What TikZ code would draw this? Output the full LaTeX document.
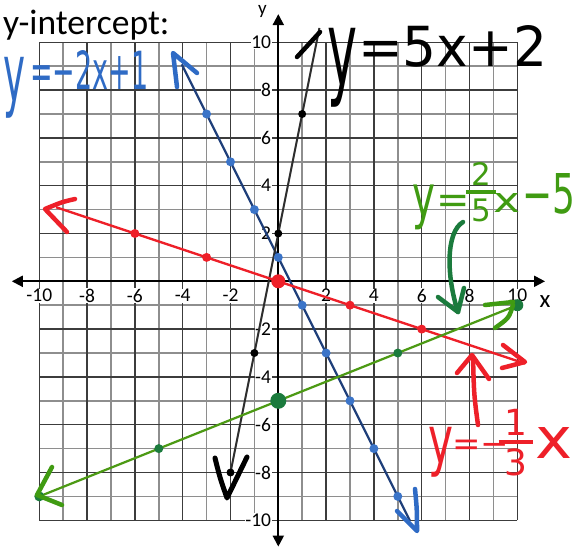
\documentclass[tikz,border=0pt]{standalone}
\usepackage{fontspec}
\setmainfont{Carlito}
\newfontfamily\hand{DejaVu Sans}
\usetikzlibrary{arrows.meta}
\definecolor{gridD}{HTML}{3C3C3C}
\definecolor{gridL}{HTML}{8E8E8E}
\definecolor{navy}{HTML}{1F3F7A}
\definecolor{bdot}{HTML}{3B74C8}
\definecolor{btext}{HTML}{2F6BC5}
\definecolor{rd}{HTML}{EE2029}
\definecolor{gline}{HTML}{4C9A14}
\definecolor{gdot}{HTML}{1B7B3D}
\definecolor{gtext}{HTML}{409B12}
\definecolor{blk}{HTML}{2E2E2E}
\newcommand\hw[3]{\resizebox{#1}{#2}{\hand #3}}
\newcommand\hwd[3]{\resizebox*{#1}{#2}{\hand #3}}
\begin{document}
\begin{tikzpicture}[x=1pt,y=-1pt,
  hand/.style={line width=4.5pt,line cap=round,line join=round},
  txt/.style={inner sep=0pt},
  tick/.style={font=\fontsize{19.5}{20}\selectfont,fill=white,inner sep=0.6pt},
  gminor/.style={gridL,line width=1.5pt},
  gmajor/.style={gridD,line width=1.5pt},
  axisline/.style={line width=2pt,{Triangle[width=11pt,length=11pt]}-{Triangle[width=11pt,length=11pt]}},
  dotB/.style={fill=bdot},dotR/.style={fill=rd},dotK/.style={fill=black},dotG/.style={fill=gdot}]
\useasboundingbox (0,0) rectangle (579,552);
\fill[white] (0,0) rectangle (579,552);
\node[txt,anchor=base west,font=\fontsize{35.5}{36}\selectfont] (title) at (3,34.5) {y-intercept:};
\begin{scope}[shift={(278.3,281.3)},x=23.9pt,y=23.9pt]
  \foreach \i in {-9,-7,...,9} {
    \draw[gminor] (\i,-10) -- (\i,10);
    \draw[gminor] (-10,\i) -- (10,\i);
  }
  \foreach \i in {-10,-8,...,10} {
    \draw[gmajor] (\i,-10) -- (\i,10);
    \draw[gmajor] (-10,\i) -- (10,\i);
  }
  \coordinate (xl) at (-11.15,0); \coordinate (xr) at (11.16,0);
  \coordinate (yb) at (0,-11.1); \coordinate (yt) at (0,11.18);
  \draw[axisline] (xl) -- (xr);
  \draw[axisline] (yb) -- (yt);
  \foreach \i in {-10,-8,-6,-4,-2,2,4,6,8,10} {
    \node[tick,anchor=center] (xt\i) at (\i,-0.6) {\i};
    \node[tick,anchor=east] (yt\i) at (-0.27,\i) {\i};
  }
  \node[txt,font=\fontsize{25}{25}\selectfont] (xlab) at (11.16,-0.85) {x};
  % lines
  \coordinate (b1) at (-4.04,9.08); \coordinate (b2) at (5.51,-10.02);
  \draw[navy,line width=2.2pt] (b1) -- (b2);
  \coordinate (k1) at (-2,-8); \coordinate (k2) at (1.72,10.6);
  \draw[blk,line width=2pt] (k1) -- (k2);
  \coordinate (r1) at (-9.3,3.1); \coordinate (r2) at (10.32,-3.44);
  \draw[rd,line width=2.4pt] (r1) -- (r2);
  \coordinate (g1) at (-10,-9); \coordinate (g2) at (10,-1);
  \draw[gline,line width=2.2pt] (g1) -- (g2);
  % dots
  \foreach \x in {-3,...,5} \fill[dotB] (\x,{-2*\x+1}) circle[radius=4.5pt];
  \foreach \x in {-2,...,1} \fill[dotK] (\x,{5*\x+2}) circle[radius=4pt];
  \foreach \x in {-6,-3,3,6} \fill[dotR] (\x,{-\x/3}) circle[radius=4.5pt];
  \fill[dotR] (0,0) circle[radius=7pt];
  \foreach \x in {-5,5} \fill[dotG] (\x,{0.4*\x-5}) circle[radius=4.5pt];
  \fill[dotG] (0,-5) circle[radius=8pt];
  \fill[dotG] (10,-1) circle[radius=6pt];
  \fill[dotG] (-10,-9) circle[radius=5pt];
\end{scope}
\node[txt,anchor=base,font=\fontsize{19}{19}\selectfont] (ylab) at (262.5,14) {y};
% handwritten arrows
\draw[hand,btext] (177,87) .. controls (175,70) .. (173,53) -- (197,73);
\draw[hand,btext] (397,511) -- (417,531) .. controls (417,510) .. (415,489);
\draw[hand,black] (297,57) -- (320,32);
\draw[hand,black,line width=5pt] (215,458) .. controls (220,478) .. (227,498) -- (247,457);
\draw[hand,rd] (75,199) .. controls (62,202) .. (45,209) -- (67,232);
\draw[hand,rd] (503,345) -- (525,362) -- (502,368);
\draw[hand,rd] (478,425) .. controls (474,395) .. (473,357);
\draw[hand,rd] (457,373) -- (472,355) -- (489,379);
\draw[hand,gtext] (485,305) -- (513,302);
\draw[hand,gtext] (513,305) .. controls (509,318) .. (495,328);
\draw[hand,gtext] (52,467) -- (37,495) -- (62,505);
\draw[hand,gdot] (463,222) .. controls (446,232) and (446,275) .. (458,312);
\draw[hand,gdot] (438,297) -- (458,312) -- (464,288);
% handwritten labels
\node[txt,anchor=north west,text=btext] (bly) at (3,57) {\hwd{22pt}{61pt}{y}};
\node[txt,anchor=base west,text=btext] (blr) at (30,89) {\hw{118pt}{39pt}{=−2x+1}};
\node[txt,anchor=north west,text=black] (kly) at (327,28) {\hwd{30pt}{79pt}{y}};
\node[txt,anchor=base west,text=black] (klr) at (358,66) {\hw{189pt}{41pt}{=5x+2}};
\node[txt,anchor=north west,text=gtext] (gly) at (412,185) {\hwd{23pt}{45pt}{y}};
\node[txt,anchor=base west,text=gtext,font=\hand\fontsize{40}{40}\selectfont] (gle) at (436,213) {=};
\node[txt,text=gtext,font=\hand\fontsize{31}{31}\selectfont] (glf) at (481,192) {${\mbox{\,2\,}\above 4.5pt\mbox{\,5\,}}$};
\node[txt,anchor=base west,text=gtext] (glx) at (493,212) {\hw{27pt}{19pt}{x}};
\node[txt,anchor=base west,text=gtext] (gl5) at (522,213) {\hw{53pt}{40pt}{−5}};
\node[txt,anchor=north west,text=rd] (rly) at (428,427) {\hwd{25pt}{50pt}{y}};
\node[txt,anchor=base west,text=rd,font=\hand\fontsize{34}{34}\selectfont] (rle) at (452,455) {=−};
\node[txt,text=rd,font=\hand\fontsize{36}{36}\selectfont] (rlf) at (516,442.5) {${\mbox{\,1\,}\above 4.5pt\mbox{\,3\,}}$};
\node[txt,anchor=base west,text=rd] (rlx) at (535,458) {\hw{37pt}{31pt}{x}};
\end{tikzpicture}
\end{document}
